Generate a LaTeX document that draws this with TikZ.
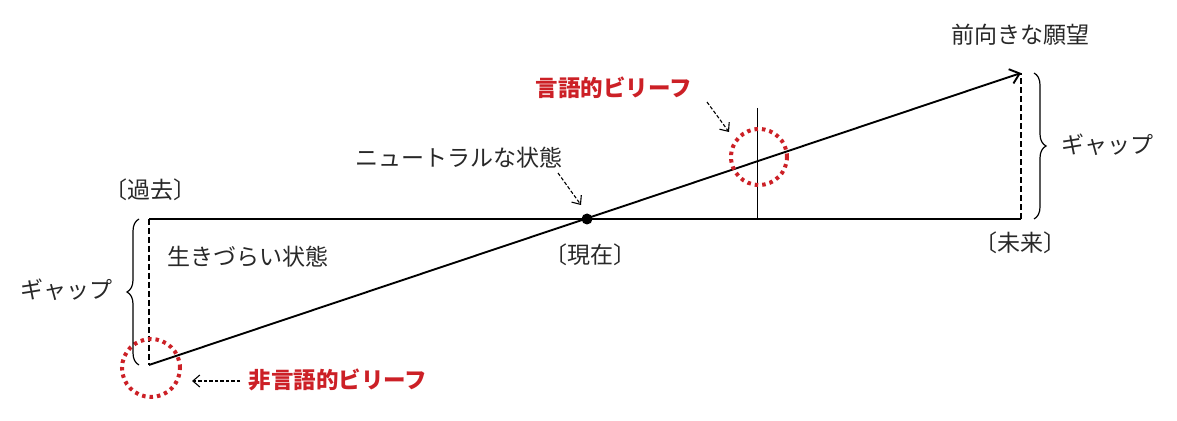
\documentclass[tikz,border=0pt]{standalone}
\usepackage{fontspec}
\setmainfont{Noto Sans CJK JP}
\usetikzlibrary{arrows.meta,decorations.pathreplacing}
\definecolor{beliefred}{RGB}{204,32,38}
\definecolor{txtgray}{RGB}{40,40,40}
\begin{document}
\begin{tikzpicture}[x=1pt,y=1pt,
  lbl/.style={inner sep=0pt,text=txtgray,font=\fontsize{23}{27}\selectfont},
  redlbl/.style={inner sep=0pt,text=beliefred,font=\fontsize{22.5}{27}\selectfont\bfseries},
  mainline/.style={line width=1.9pt},
  gapline/.style={line width=1.9pt,dash pattern=on 6pt off 3pt},
  hint/.style={line width=1.1pt,dash pattern=on 3.5pt off 2pt,-{Straight Barb[length=7pt,width=12pt]}},
  redring/.style={draw=beliefred,line width=4pt,dash pattern=on 3.5pt off 4pt},
  gapbrace/.style={decorate,decoration={brace,amplitude=12pt},line width=1.2pt},
]
\useasboundingbox (0,0) rectangle (1177,420);
% key coordinates
\coordinate (past) at (149,201);
\coordinate (low) at (149,55);
\coordinate (future) at (1021,201);
\coordinate (tip) at (1021,347);
\coordinate (vtop) at (757,312);
\coordinate (vbot) at (757,201);
% timeline
\draw[mainline] (past) -- (future);
% gaps
\draw[gapline] (past) -- (low);
\draw[gapline] (future) -- (tip);
% diagonal
\draw[mainline,-{Straight Barb[length=9pt,width=15pt]}] (low) -- (tip);
% thin vertical marker
\draw[line width=0.8pt] (vtop) -- (vbot);
% present dot
\node[circle,fill=black,inner sep=0pt,minimum size=11pt] (now) at (587,201) {};
% red rings
\node[circle,redring,minimum size=56pt,inner sep=0pt] (ringV) at (759,263) {};
\node[circle,redring,minimum size=58pt,inner sep=0pt] (ringN) at (151,52) {};
% braces
\draw[gapbrace] (139,55) -- (139,201);
\draw[gapbrace] (1034,347) -- (1034,201);
% labels
\node[lbl] (kako) at (150,230) {〔過去〕};
\node[lbl] (ikizurai) at (248,163) {生きづらい状態};
\node[lbl] (gapL) at (66,130) {ギャップ};
\node[redlbl] (nonverbal) at (338,40) {非言語的ビリーフ};
\node[lbl] (neutral) at (459,262) {ニュートラルな状態};
\node[redlbl] (verbal) at (614,332) {言語的ビリーフ};
\node[lbl] (genzai) at (590,165) {〔現在〕};
\node[lbl] (ganbou) at (1020,385) {前向きな願望};
\node[lbl] (gapR) at (1107,275) {ギャップ};
\node[lbl] (mirai) at (1020,177) {〔未来〕};
% hint arrows
\coordinate (nvA) at (240,39);
\coordinate (nvB) at (192,39);
\draw[hint] (nvA) -- (nvB);
\coordinate (neA) at (558,247);
\coordinate (neB) at (581,215);
\draw[hint] (neA) -- (neB);
\coordinate (vbA) at (707,318);
\coordinate (vbB) at (729,288);
\draw[hint] (vbA) -- (vbB);
\end{tikzpicture}
\end{document}
